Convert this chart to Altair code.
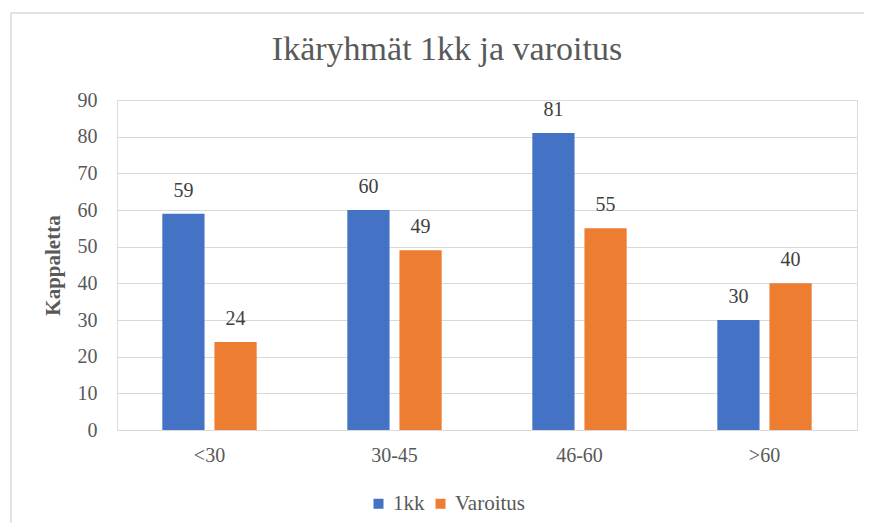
import altair as alt
import pandas as pd

title_text = "Ikäryhmät 1kk ja varoitus"
categories = ["<30", "30-45", "46-60", ">60"]
series = ["1kk", "Varoitus"]
values_1kk = [59, 60, 81, 30]
values_varoitus = [24, 49, 55, 40]
y_ticks = [0, 10, 20, 30, 40, 50, 60, 70, 80, 90]
colors = ["#4472C4", "#ED7D31"]

rows = []
for c, a, b in zip(categories, values_1kk, values_varoitus):
    rows.append({"Ikäryhmä": c, "Sarja": "1kk", "Kappaletta": a})
    rows.append({"Ikäryhmä": c, "Sarja": "Varoitus", "Kappaletta": b})
df = pd.DataFrame(rows)

FONT = "Liberation Serif"
GRID = "#d9d9d9"

x = alt.X(
    "Ikäryhmä:N",
    sort=categories,
    scale=alt.Scale(paddingInner=0.49, paddingOuter=0.245),
    axis=alt.Axis(
        title=None, labelAngle=0, labelFont=FONT, labelFontSize=20,
        labelColor="#595959", labelPadding=15, domain=False, ticks=False, grid=False,
    ),
)
xoff = alt.XOffset("Sarja:N", sort=series, scale=alt.Scale(paddingInner=0.19, paddingOuter=0))
y = alt.Y(
    "Kappaletta:Q",
    scale=alt.Scale(domain=[0, 90], nice=False),
    axis=alt.Axis(
        values=y_ticks, title="Kappaletta", titleFont=FONT, titleFontSize=21,
        titleFontWeight="bold", titleColor="#595959", titlePadding=14,
        labelFont=FONT, labelFontSize=20, labelColor="#595959", labelPadding=20,
        domain=False, ticks=False, grid=True, gridColor=GRID, gridWidth=1,
    ),
)
color = alt.Color(
    "Sarja:N",
    sort=series,
    scale=alt.Scale(domain=series, range=colors),
    legend=alt.Legend(
        title=None, orient="none", direction="horizontal", legendX=251, legendY=393,
        symbolType="square", symbolSize=100, symbolStrokeWidth=0,
        labelFont=FONT, labelFontSize=21, labelColor="#595959",
        labelOffset=4, columnPadding=5, padding=0,
    ),
)

bars = alt.Chart(df).mark_bar().encode(x=x, xOffset=xoff, y=y, color=color)
labels = alt.Chart(df).mark_text(
    baseline="alphabetic", dy=-17, fontSize=20, font=FONT, color="#404040"
).encode(x=x, xOffset=xoff, y=y, text="Kappaletta:Q")

frame_df = pd.DataFrame({"k": [0]})
title_df = pd.DataFrame({"t": [title_text]})
top_line = alt.Chart(frame_df).mark_rule(color=GRID, strokeWidth=1.5).encode(
    x=alt.value(-106), x2=alt.value(800), y=alt.value(-87)
)
left_line = alt.Chart(frame_df).mark_rule(color=GRID, strokeWidth=1.5).encode(
    x=alt.value(-106), y=alt.value(-87), y2=alt.value(500)
)
title = alt.Chart(title_df).mark_text(
    font=FONT, fontSize=34, color="#595959", align="center", baseline="alphabetic"
).encode(x=alt.value(330), y=alt.value(-40), text="t:N")

chart = alt.layer(top_line, left_line, title, bars, labels).properties(
    width=740,
    height=330,
    padding={"left": 109, "top": 92, "right": 7, "bottom": 93},
    autosize=alt.AutoSizeParams(type="none"),
).configure_view(stroke=None).configure(
    background="white", font=FONT
).configure_legend(labelFont=FONT)

chart.save("out.html", embed_options={"renderer": "svg", "actions": False})
